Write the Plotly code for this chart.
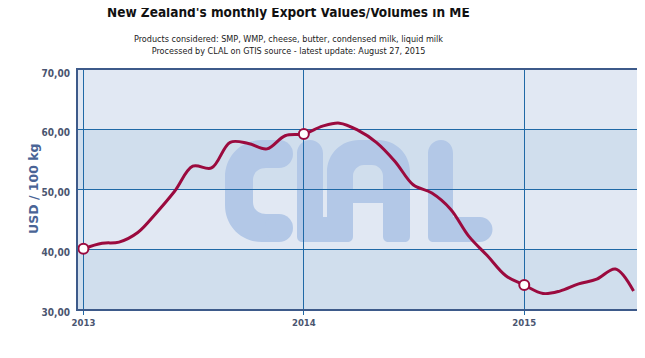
import re
import plotly.graph_objects as go

# ---- data ----
months = [
    "2013-01-01", "2013-02-01", "2013-03-01", "2013-04-01", "2013-05-01", "2013-06-01",
    "2013-07-01", "2013-08-01", "2013-09-01", "2013-10-01", "2013-11-01", "2013-12-01",
    "2014-01-01", "2014-02-01", "2014-03-01", "2014-04-01", "2014-05-01", "2014-06-01",
    "2014-07-01", "2014-08-01", "2014-09-01", "2014-10-01", "2014-11-01", "2014-12-01",
    "2015-01-01", "2015-02-01", "2015-03-01", "2015-04-01", "2015-05-01", "2015-06-01",
    "2015-07-01",
]
values = [
    40.1, 41.0, 41.2, 42.8, 46.0, 49.7, 53.9, 53.6, 57.9, 57.7, 56.8, 59.0,
    59.3, 60.6, 61.1, 59.9, 57.9, 54.7, 50.8, 49.4, 46.7, 42.2, 38.9, 35.6,
    34.0, 32.6, 33.0, 34.2, 35.0, 36.7, 33.0,
]
y_ticks = [30, 40, 50, 60, 70]
x_ticks = ["2013-01-01", "2014-01-01", "2015-01-01"]
x_tick_labels = ["2013", "2014", "2015"]

title = "New Zealand's monthly Export Values/Volumes in ME"
subtitle = ("Products considered: SMP, WMP, cheese, butter, condensed milk, liquid milk<br>"
            "Processed by CLAL on GTIS source - latest update: August 27, 2015")
y_title = "USD / 100 kg"

# ---- styles ----
LINE = "#9b0a3e"
GRID = "#2069a6"
BORDER = "#3d5a8a"
TICK = "#4a5570"
BAND_LIGHT = "#e1e8f3"
BAND_DARK = "#d0deed"
WATERMARK = "#b3c8e7"
COND = "DejaVu Sans Condensed, DejaVu Sans"

# plot area in window pixels (page body has an 8px margin)
PX0, PX1, PY0, PY1 = 78, 639, 70, 309


def px(x):
    return (x - PX0) / (PX1 - PX0)


def py(y):
    return (PY1 - y) / (PY1 - PY0)


def to_paper(path):
    return re.sub(r"(-?\d+\.?\d*),(-?\d+\.?\d*)",
                  lambda m: "%.5f,%.5f" % (px(float(m.group(1))), py(float(m.group(2)))), path)


# CLAL logo watermark outlines (pixel space)
logo_paths = [
    # C
    "M 279,140 L 262,140 C 241,140 225,156 225,177 L 225,205 C 225,226 241,242 262,242 "
    "L 279,242 L 279,214 L 266,214 C 258,214 253,209 253,202 L 253,180 C 253,173 258,168 266,168 "
    "L 279,168 Z",
    # L
    "M 297,236 L 297,153 C 297,146 303,140 310,140 C 317,140 323,146 323,153 L 323,217 "
    "L 345,217 L 345,242 L 303,242 C 299,242 297,240 297,236 Z",
    # A (with counter)
    "M 327,236 L 327,172 C 327,154 341,140 359,140 L 378,140 C 396,140 410,154 410,172 "
    "L 410,236 C 410,240 408,242 404,242 L 389,242 C 385,242 383,240 383,236 L 383,203 "
    "L 353,203 L 353,236 C 353,240 351,242 347,242 L 333,242 C 329,242 327,240 327,236 Z "
    "M 353,189 L 383,189 L 383,176 C 383,170 378,165 372,165 L 364,165 C 358,165 353,170 353,176 Z",
    # L
    "M 428,236 L 428,153 C 428,146 434,140 441,140 C 448,140 453,146 453,153 L 453,217 "
    "L 480,217 L 480,242 L 434,242 C 430,242 428,240 428,236 Z",
]
logo_caps = [(279, 154, 14), (279, 228, 14), (480, 229.5, 12.5)]

fig = go.Figure()

fig.add_trace(go.Scatter(
    x=months, y=values, mode="lines",
    line=dict(color=LINE, width=3, shape="spline", smoothing=1.0),
    showlegend=False, hoverinfo="x+y",
))

jan_idx = [i for i, m in enumerate(months) if m[5:7] == "01"]
fig.add_trace(go.Scatter(
    x=[months[i] for i in jan_idx], y=[values[i] for i in jan_idx], mode="markers",
    marker=dict(size=10, color="white", line=dict(color=LINE, width=2)),
    showlegend=False,
))

# alternating bands
for k in range(len(y_ticks) - 1):
    fig.add_shape(type="rect", xref="paper", yref="y", x0=0, x1=1,
                  y0=y_ticks[k], y1=y_ticks[k + 1], layer="below", line_width=0,
                  fillcolor=BAND_DARK if k % 2 == 0 else BAND_LIGHT)

# watermark
for p in logo_paths:
    fig.add_shape(type="path", path=to_paper(p), xref="paper", yref="paper",
                  fillcolor=WATERMARK, line_width=0, layer="below")
for cx, cy, r in logo_caps:
    fig.add_shape(type="circle", xref="paper", yref="paper",
                  x0=px(cx - r), x1=px(cx + r), y0=py(cy + r), y1=py(cy - r),
                  fillcolor=WATERMARK, line_width=0, layer="below")

fig.update_layout(
    width=645, height=358,
    margin=dict(l=PX0 - 8, r=645 - (PX1 - 8), t=PY0 - 8, b=358 - (PY1 - 8)),
    paper_bgcolor="white", plot_bgcolor=BAND_LIGHT,
    separators=",.",
    font=dict(family=COND, color=TICK),
    annotations=[
        dict(text="<b>" + title + "</b>", xref="paper", yref="paper",
             x=px(288), y=py(12.5), xanchor="center", yanchor="middle", showarrow=False,
             font=dict(family=COND, size=13.5, color="#111111")),
        dict(text=subtitle, xref="paper", yref="paper", x=px(288), y=py(44.5),
             xanchor="center", yanchor="middle", showarrow=False,
             font=dict(family=COND, size=9, color="#222222")),
        dict(text="<b>" + y_title + "</b>", xref="paper", yref="paper", x=px(33), y=py(189),
             xanchor="center", yanchor="middle", textangle=-90, showarrow=False,
             font=dict(family="DejaVu Sans", size=12.5, color="#4a6496")),
    ],
    xaxis=dict(
        type="date", range=["2012-12-23", "2015-07-10"],
        tickvals=x_ticks, ticktext=["<b>%s</b>" % t for t in x_tick_labels],
        showgrid=True, gridcolor=GRID, gridwidth=1,
        ticks="outside", ticklen=4, tickcolor=GRID,
        showline=True, linecolor=BORDER, linewidth=2, mirror=True,
        tickfont=dict(family=COND, size=9.5, color=TICK),
        zeroline=False,
    ),
    yaxis=dict(
        range=[30, 70], tickvals=y_ticks, tickformat=".2f",
        showgrid=True, gridcolor=GRID, gridwidth=1,
        showline=True, linecolor=BORDER, linewidth=2, mirror=True,
        tickfont=dict(family=COND, size=10, color=TICK, weight="bold"),
        ticklabelstandoff=4, ticklabelshift=3,
        zeroline=False, ticks="",
    ),
)

fig.write_html("out.html")
